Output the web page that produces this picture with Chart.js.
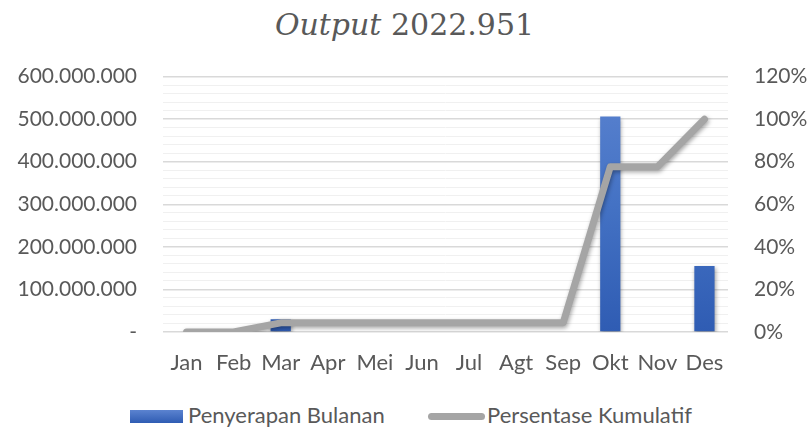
<!DOCTYPE html>
<html>
<head>
<meta charset="utf-8">
<script src="https://cdn.jsdelivr.net/npm/chart.js@4"></script>
<style>
  html, body { margin: 0; padding: 0; background: #fff; }
  #wrap { width: 809px; height: 428px; position: relative; font-family: Lato, "Open Sans", sans-serif; color: #595959; }
  #title {
    position: absolute; left: 0; top: 7px; width: 809px; text-align: center;
    font-family: "DejaVu Serif", "Liberation Serif", serif; font-size: 30px; color: #595959;
  }
  #chart-box { position: absolute; left: 0; top: 38px; width: 809px; height: 352px; }
  .legend-item { position: absolute; top: 402px; font-size: 22px; white-space: nowrap; line-height: 26px; }
  .legend-item span.key { position: absolute; }
  #leg-bar { left: 130px; }
  #leg-bar .key { left: 0; top: 8px; width: 53px; height: 13px; background: linear-gradient(#5b83d0, #2f5cb3); }
  #leg-bar .txt { margin-left: 58px; }
  #leg-line { left: 428px; }
  #leg-line .key { left: 0; top: 11px; width: 57px; height: 7px; border-radius: 3.5px; background: #a5a5a5; }
  #leg-line .txt { margin-left: 59px; }
</style>
</head>
<body>
<div id="wrap">
  <div id="title"><i>Output</i> 2022.951</div>
  <div id="chart-box"><canvas id="combo-chart"></canvas></div>
  <div class="legend-item" id="leg-bar"><span class="key"></span><span class="txt">Penyerapan Bulanan</span></div>
  <div class="legend-item" id="leg-line"><span class="key"></span><span class="txt">Persentase Kumulatif</span></div>
</div>
<script>
// Data
const months = ["Jan", "Feb", "Mar", "Apr", "Mei", "Jun", "Jul", "Agt", "Sep", "Okt", "Nov", "Des"];
const monthlyAbsorption = [0, 0, 30000000, 0, 0, 0, 0, 0, 0, 506000000, 0, 155000000]; // Penyerapan Bulanan
const cumulativePercent = [0, 0, 4.3, 4.3, 4.3, 4.3, 4.3, 4.3, 4.3, 77.6, 77.6, 100]; // Persentase Kumulatif

const labelFont = { family: "Lato, 'Open Sans', sans-serif", size: 22 };
const axisFont = { family: "Lato, 'Open Sans', sans-serif", size: 21 };
const textColor = "#595959";

// soft shadow under bars and line
const shadowPlugin = {
  id: "shadow",
  beforeDatasetDraw(chart) {
    const ctx = chart.ctx;
    ctx.save();
    ctx.shadowColor = "rgba(0,0,0,0.35)";
    ctx.shadowBlur = 4;
    ctx.shadowOffsetX = 1;
    ctx.shadowOffsetY = 2;
  },
  afterDatasetDraw(chart) {
    chart.ctx.restore();
  },
};

function barGradient(context) {
  const chart = context.chart;
  const area = chart.chartArea;
  if (!area) return "#4472c4";
  const g = chart.ctx.createLinearGradient(0, area.top, 0, area.bottom);
  g.addColorStop(0, "#5b83d0");
  g.addColorStop(0.5, "#4472c4");
  g.addColorStop(1, "#2f5cb3");
  return g;
}

const ctx = document.getElementById("combo-chart").getContext("2d");
const comboChart = new Chart(ctx, {
  data: {
    labels: months,
    datasets: [
      {
        type: "line",
        label: "Persentase Kumulatif",
        data: cumulativePercent,
        yAxisID: "yPct",
        borderColor: "#a5a5a5",
        borderWidth: 7,
        pointRadius: 0,
        borderCapStyle: "round",
        borderJoinStyle: "round",
        tension: 0,
        order: 0,
      },
      {
        type: "bar",
        label: "Penyerapan Bulanan",
        data: monthlyAbsorption,
        yAxisID: "yVal",
        backgroundColor: barGradient,
        categoryPercentage: 1,
        barPercentage: 0.43,
        order: 1,
      },
    ],
  },
  options: {
    responsive: true,
    maintainAspectRatio: false,
    animation: false,
    layout: { padding: { left: 0, right: 0, top: 4, bottom: 14 } },
    plugins: {
      title: { display: false },
      tooltip: { enabled: false },
      legend: { display: false },
    },
    scales: {
      x: {
        grid: { display: false, drawTicks: false },
        border: { display: false },
        ticks: { color: textColor, font: labelFont, padding: 18, maxRotation: 0 },
        afterFit: (s) => { s.height = 44; },
      },
      yVal: {
        position: "left",
        min: 0,
        max: 600000000,
        border: { display: false },
        grid: {
          drawTicks: false,
          color: (c) => (c.tick && c.tick.value % 100000000 === 0 ? "#d9d9d9" : "#f0f0f0"),
          lineWidth: (c) => (c.tick && c.tick.value % 100000000 === 0 ? 1.5 : 1),
        },
        ticks: {
          stepSize: 20000000,
          autoSkip: false,
          color: textColor,
          font: axisFont,
          padding: 26,
          callback: (v) => {
            if (v % 100000000 !== 0) return "";
            if (v === 0) return "-";
            return v.toLocaleString("de-DE");
          },
        },
        afterFit: (s) => { s.width = 163; },
      },
      yPct: {
        position: "right",
        min: 0,
        max: 120,
        border: { display: false },
        grid: { display: false, drawTicks: false },
        ticks: {
          stepSize: 20,
          color: textColor,
          font: axisFont,
          padding: 26,
          callback: (v) => v + "%",
        },
        afterFit: (s) => { s.width = 81; },
      },
    },
  },
  plugins: [shadowPlugin],
});
</script>
</body>
</html>
